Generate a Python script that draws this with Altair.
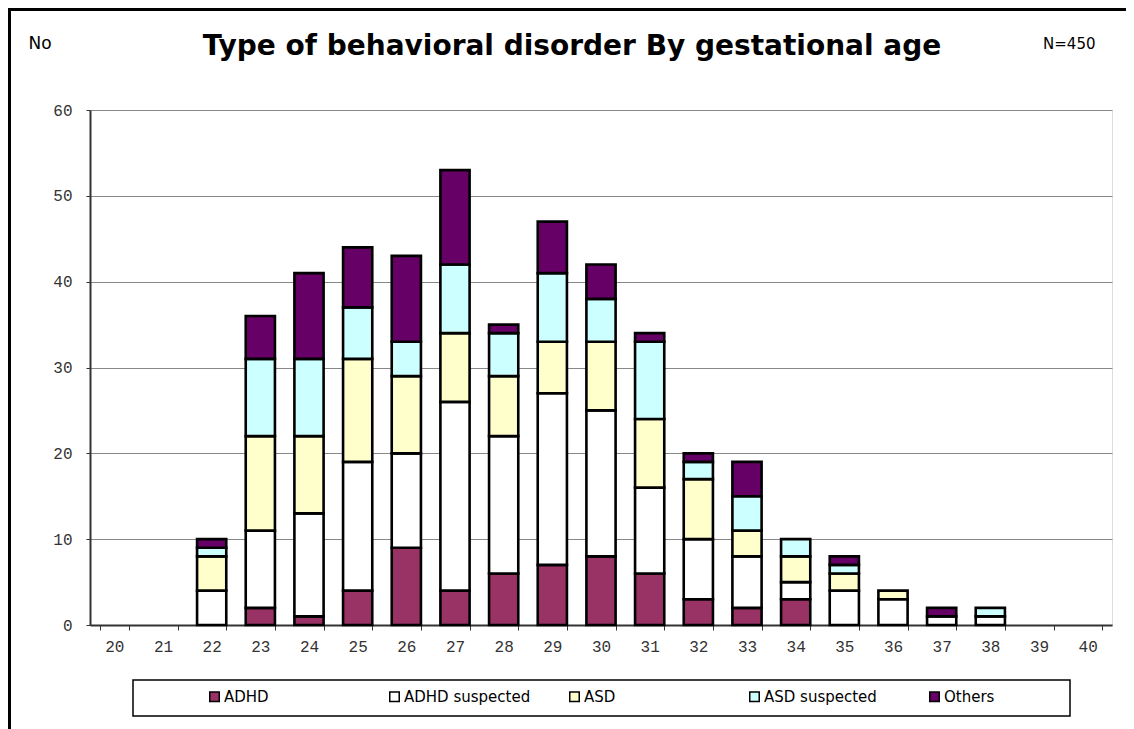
import altair as alt
import pandas as pd

# ---- data ----
all_ages = list(range(20, 41))
bar_ages = [22, 23, 24, 25, 26, 27, 28, 29, 30, 31, 32, 33, 34, 35, 36, 37, 38]
adhd      = [0, 2, 1, 4, 9, 4, 6, 7, 8, 6, 3, 2, 3, 0, 0, 0, 0]
adhd_susp = [4, 9, 12, 15, 11, 22, 16, 20, 17, 10, 7, 6, 2, 4, 3, 1, 1]
asd       = [4, 11, 9, 12, 9, 8, 7, 6, 8, 8, 7, 3, 3, 2, 1, 0, 0]
asd_susp  = [1, 9, 9, 6, 4, 8, 5, 8, 5, 9, 2, 4, 2, 1, 0, 0, 1]
others    = [1, 5, 10, 7, 10, 11, 1, 6, 4, 1, 1, 4, 0, 1, 0, 1, 0]

series_names = ["ADHD", "ADHD suspected", "ASD", "ASD suspected", "Others"]
series_vals = [adhd, adhd_susp, asd, asd_susp, others]
series_colors = ["#993366", "#FFFFFF", "#FFFFCC", "#CCFFFF", "#660066"]
y_ticks = [0, 10, 20, 30, 40, 50, 60]
title_text = "Type of behavioral disorder By gestational age"

rows = []
for k, (name, vals) in enumerate(zip(series_names, series_vals)):
    for age, v in zip(bar_ages, vals):
        if v > 0:
            rows.append({"age": age, "type": name, "n": v, "k": k})
df = pd.DataFrame(rows)

W, H = 1022, 515
mono = "Liberation Mono"
sans = "DejaVu Sans"

bars = alt.Chart(df).mark_bar(stroke="black", strokeWidth=2.6).encode(
    x=alt.X("age:O",
            scale=alt.Scale(domain=all_ages, paddingInner=0.4, paddingOuter=0.2),
            axis=alt.Axis(title="N=450", titleX=1005, titleY=-577, titleAlign="right",
                          titleBaseline="alphabetic", titleFont=sans, titleFontSize=15,
                          titleFontWeight="normal", titleColor="black",
                          labelAngle=0, labelFont=mono, labelFontSize=16, labelColor="#333333",
                          labelPadding=8, tickBand="extent", tickSize=5, tickColor="#333333",
                          domainColor="#333333", domainWidth=2, grid=False)),
    y=alt.Y("n:Q", stack="zero",
            scale=alt.Scale(domain=[0, 60], nice=False),
            axis=alt.Axis(title="No", titleAngle=0, titleX=-62, titleY=-62, titleAlign="left",
                          titleBaseline="alphabetic", titleFont=sans, titleFontSize=17,
                          titleFontWeight="normal", titleColor="black",
                          values=y_ticks, labelFont=mono, labelFontSize=16, labelColor="#333333",
                          labelPadding=14, tickSize=4, tickColor="#333333",
                          domainColor="#333333", domainWidth=2,
                          grid=True, gridColor="#888888", gridWidth=1)),
    color=alt.Color("type:N",
                    scale=alt.Scale(domain=series_names, range=series_colors),
                    legend=alt.Legend(title=None, orient="none", legendX=117, legendY=579,
                                      direction="horizontal", columns=5, gridAlign="all",
                                      columnPadding=35, symbolType="square", symbolSize=90,
                                      symbolStrokeColor="black", symbolStrokeWidth=1.5,
                                      symbolOffset=0, labelOffset=2,
                                      labelFont=sans, labelFontSize=15, labelColor="black")),
    order=alt.Order("k:Q", sort="ascending"),
)

one = pd.DataFrame({"t": [title_text]})
title_mark = alt.Chart(one).mark_text(
    font=sans, fontSize=28, fontWeight="bold", color="black",
    align="center", baseline="alphabetic"
).encode(text="t:N", x=alt.value(482), y=alt.value(-55))
legend_box = alt.Chart(one).mark_rect(fill="white", stroke="black", strokeWidth=1.5).encode(
    x=alt.value(43), x2=alt.value(980), y=alt.value(570), y2=alt.value(606)
)
frame_top = alt.Chart(one).mark_rule(color="black", strokeWidth=3).encode(
    x=alt.value(-82), x2=alt.value(W + 20), y=alt.value(-100.5)
)
frame_left = alt.Chart(one).mark_rule(color="black", strokeWidth=3).encode(
    x=alt.value(-80.5), y=alt.value(-102), y2=alt.value(H + 120)
)

chart = alt.layer(legend_box, bars, title_mark, frame_top, frame_left).properties(
    width=W, height=H,
    autosize=alt.AutoSizeParams(type="none"),
    padding={"left": 82, "top": 102, "right": 14, "bottom": 105},
).configure_view(stroke="#888888", strokeWidth=2).configure(background="white")

chart.save("out.html", embed_options={"renderer": "svg", "actions": False})
